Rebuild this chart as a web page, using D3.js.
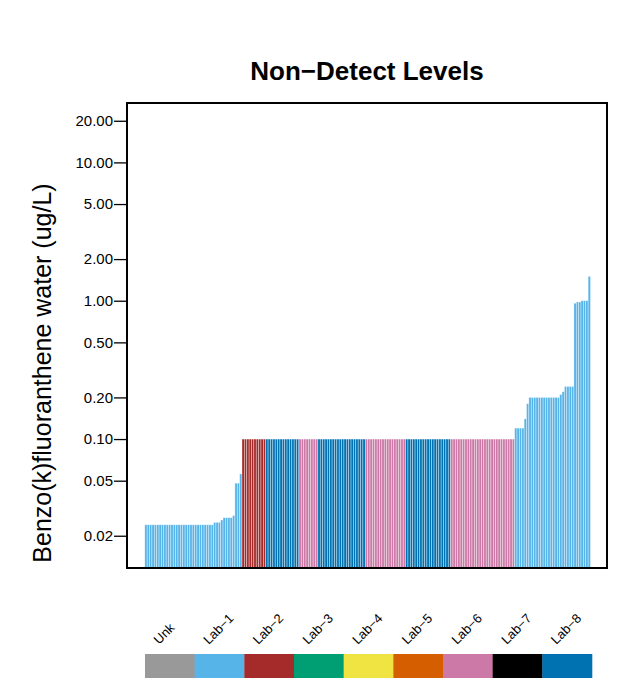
<!DOCTYPE html>
<html>
<head>
<meta charset="utf-8">
<script src="https://cdn.jsdelivr.net/npm/d3@7"></script>
<style>
  html, body { margin: 0; padding: 0; background: #fff; }
  svg { display: block; font-family: "Liberation Sans", Arial, Helvetica, sans-serif; }
</style>
</head>
<body>
<svg id="chart" width="635" height="683"></svg>
<script>
// ---- data ----
const labNames = ["Unk", "Lab\u22121", "Lab\u22122", "Lab\u22123", "Lab\u22124", "Lab\u22125", "Lab\u22126", "Lab\u22127", "Lab\u22128"];
const labColors = ["#999999", "#56B4E9", "#A52A2A", "#009E73", "#F0E442", "#D55E00", "#CC79A7", "#000000", "#0072B2"];
const yTicks = [0.02, 0.05, 0.1, 0.2, 0.5, 1, 2, 5, 10, 20];
const yTickLabels = ["0.02", "0.05", "0.10", "0.20", "0.50", "1.00", "2.00", "5.00", "10.00", "20.00"];
const titleText = "Non\u2212Detect Levels";
const yLabel = "Benzo(k)fluoranthene water  (ug/L)";

// non-detect level of each sample (sorted), and lab index of each sample
const barValues = [
  0.024,0.024,0.024,0.024,0.024,0.024,0.024,0.024,0.024,0.024,
  0.024,0.024,0.024,0.024,0.024,0.024,0.024,0.024,0.024,0.024,
  0.024,0.024,0.024,0.024,0.024,0.024,0.024,0.024,0.024,0.025,
  0.025,0.025,0.026,0.027,0.027,0.027,0.027,0.028,0.048,0.048,
  0.056,
  0.1,0.1,0.1,0.1,0.1,0.1,0.1,0.1,0.1,0.1,
  0.1,0.1,0.1,0.1,0.1,0.1,0.1,0.1,0.1,0.1,
  0.1,0.1,0.1,0.1,0.1,0.1,0.1,0.1,0.1,0.1,
  0.1,0.1,0.1,0.1,0.1,0.1,0.1,0.1,0.1,0.1,
  0.1,0.1,0.1,0.1,0.1,0.1,0.1,0.1,0.1,0.1,
  0.1,0.1,0.1,0.1,0.1,0.1,0.1,0.1,0.1,0.1,
  0.1,0.1,0.1,0.1,0.1,0.1,0.1,0.1,0.1,0.1,
  0.1,0.1,0.1,0.1,0.1,0.1,0.1,0.1,0.1,0.1,
  0.1,0.1,0.1,0.1,0.1,0.1,0.1,0.1,0.1,0.1,
  0.1,0.1,0.1,0.1,0.1,0.1,0.1,0.1,0.1,0.1,
  0.1,0.1,0.1,0.1,0.1,0.1,0.1,0.1,0.1,0.1,
  0.1,0.1,0.1,0.1,0.1,
  0.12,0.12,0.12,0.12,0.14,0.18,0.2,0.2,0.2,0.2,
  0.2,0.2,0.2,0.2,0.2,0.2,0.2,0.2,0.2,0.21,
  0.22,0.24,0.24,0.24,0.24,0.96,0.98,0.98,1.0,1.0,
  1.0,1.5
];
const barLab = [
  1,1,1,1,1,1,1,1,1,1,
  1,1,1,1,1,1,1,1,1,1,
  1,1,1,1,1,1,1,1,1,1,
  1,1,1,1,1,1,1,1,1,1,
  1,
  2,2,2,2,2,2,2,2,2,2,
  8,8,8,8,8,8,8,8,8,8,8,8,8,8,
  6,6,6,6,6,6,6,6,
  8,8,8,8,8,8,8,8,8,8,8,8,8,8,8,8,8,8,8,8,
  6,6,6,6,6,6,6,6,6,6,6,6,6,6,6,6,6,
  8,8,8,8,8,8,8,8,8,8,8,8,8,8,8,8,8,8,8,
  6,6,6,6,6,6,6,6,6,6,6,6,6,6,6,6,6,6,6,6,6,6,6,6,6,6,6,
  1,1,1,1,1,1,1,1,1,1,
  1,1,1,1,1,1,1,1,1,1,
  1,1,1,1,1,1,1,1,1,1,
  1,1
];

// ---- layout ----
const svg = d3.select("#chart");
const plot = { left: 127, right: 607, top: 103, bottom: 568 };
const barRange = [144.8, 590.5];

const x = d3.scaleBand().domain(d3.range(barValues.length)).range(barRange).padding(0);
const y = d3.scaleLog().domain([0.01169, 26.88]).range([plot.bottom, plot.top]);

// bars
svg.append("g").selectAll("rect")
  .data(barValues)
  .join("rect")
  .attr("x", (d, i) => x(i))
  .attr("width", x.bandwidth())
  .attr("y", d => y(d))
  .attr("height", d => plot.bottom - y(d))
  .attr("fill", (d, i) => labColors[barLab[i]])
  .attr("stroke", "rgba(255,255,255,0.6)")
  .attr("stroke-width", 0.6);

// box
svg.append("rect")
  .attr("x", plot.left).attr("y", plot.top)
  .attr("width", plot.right - plot.left).attr("height", plot.bottom - plot.top)
  .attr("fill", "none").attr("stroke", "#000").attr("stroke-width", 2);

// y axis
const yAxis = d3.axisLeft(y)
  .tickValues(yTicks)
  .tickFormat((d, i) => yTickLabels[i])
  .tickSize(13)
  .tickPadding(1);
const gy = svg.append("g").attr("transform", `translate(${plot.left},0)`).call(yAxis);
gy.select(".domain").remove();
gy.selectAll(".tick line").attr("stroke", "#000").attr("stroke-width", 1.3);
gy.selectAll(".tick text").attr("font-size", 15).attr("fill", "#000")
  .attr("font-family", "'Liberation Sans', Arial, sans-serif");

// title
svg.append("text")
  .attr("x", (plot.left + plot.right) / 2).attr("y", 80)
  .attr("text-anchor", "middle")
  .attr("font-size", 26).attr("font-weight", "bold")
  .text(titleText);

// y label
svg.append("text")
  .attr("transform", `translate(51,373) rotate(-90)`)
  .attr("text-anchor", "middle")
  .attr("font-size", 25)
  .text(yLabel);

// legend
const lx = d3.scaleBand().domain(d3.range(labNames.length)).range([145, 592]).padding(0);
const lg = svg.append("g");
lg.selectAll("rect").data(labNames).join("rect")
  .attr("x", (d, i) => lx(i)).attr("y", 654)
  .attr("width", lx.bandwidth() + 0.3).attr("height", 24)
  .attr("fill", (d, i) => labColors[i]);
lg.selectAll("text").data(labNames).join("text")
  .attr("transform", (d, i) => `translate(${lx(i) + 14},645) rotate(-45)`)
  .attr("text-anchor", "start")
  .attr("font-size", 13)
  .text(d => d);
</script>
</body>
</html>
